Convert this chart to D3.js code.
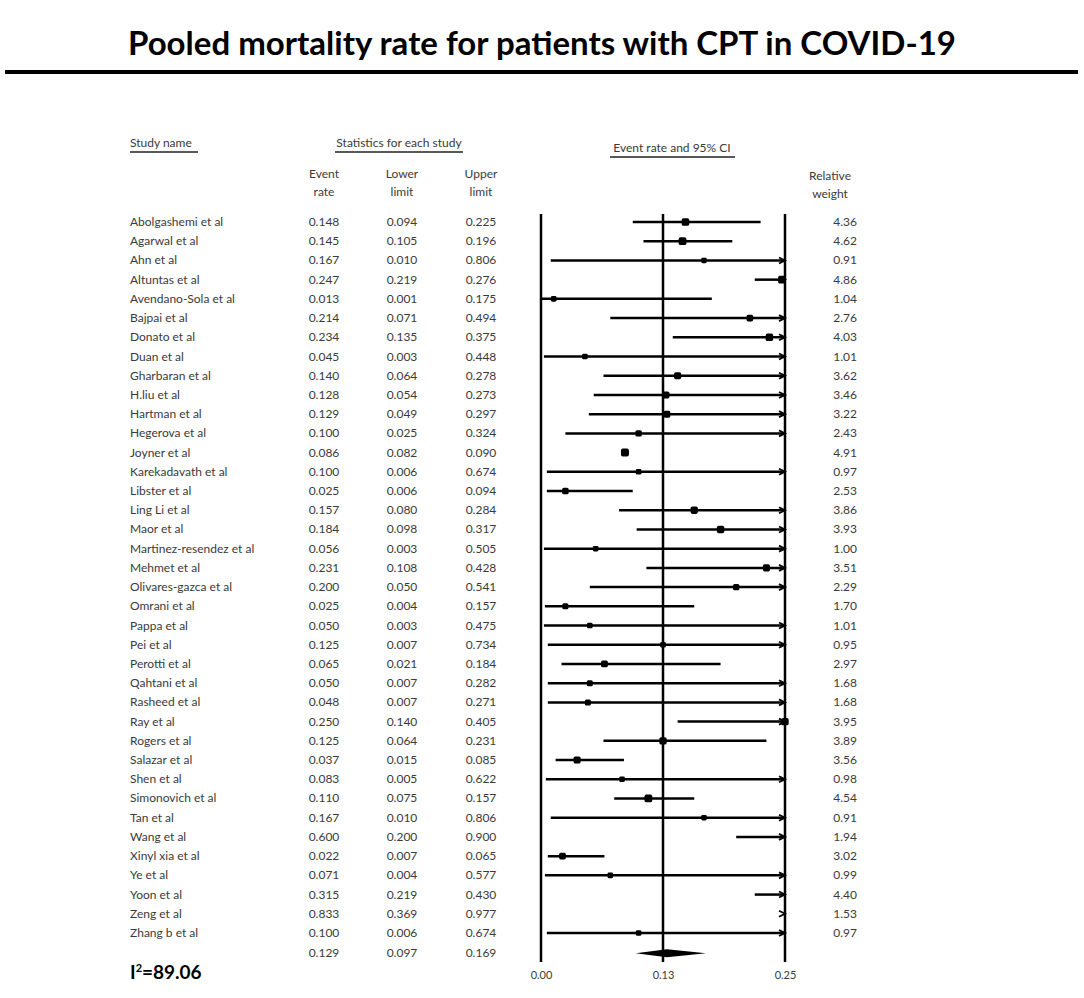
<!DOCTYPE html>
<html>
<head>
<meta charset="utf-8">
<script src="https://cdn.jsdelivr.net/npm/d3@7"></script>
<style>
  body { margin: 0; background: #fff; }
</style>
</head>
<body>
<div class="forest"></div>
<script>
var studies = ["Abolgashemi et al","Agarwal et al","Ahn et al","Altuntas et al","Avendano-Sola et al",
  "Bajpai et al","Donato et al","Duan et al","Gharbaran et al","H.liu et al","Hartman et al",
  "Hegerova et al","Joyner et al","Karekadavath et al","Libster et al","Ling Li et al","Maor et al",
  "Martinez-resendez et al","Mehmet et al","Olivares-gazca et al","Omrani et al","Pappa et al",
  "Pei et al","Perotti et al","Qahtani et al","Rasheed et al","Ray et al","Rogers et al",
  "Salazar et al","Shen et al","Simonovich et al","Tan et al","Wang et al","Xinyl xia et al",
  "Ye et al","Yoon et al","Zeng et al","Zhang b et al"]
var eventRate = [0.148,0.145,0.167,0.247,0.013,0.214,0.234,0.045,0.140,0.128,0.129,0.100,0.086,
  0.100,0.025,0.157,0.184,0.056,0.231,0.200,0.025,0.050,0.125,0.065,0.050,0.048,0.250,0.125,
  0.037,0.083,0.110,0.167,0.600,0.022,0.071,0.315,0.833,0.100]
var lowerLimit = [0.094,0.105,0.010,0.219,0.001,0.071,0.135,0.003,0.064,0.054,0.049,0.025,0.082,
  0.006,0.006,0.080,0.098,0.003,0.108,0.050,0.004,0.003,0.007,0.021,0.007,0.007,0.140,0.064,
  0.015,0.005,0.075,0.010,0.200,0.007,0.004,0.219,0.369,0.006]
var upperLimit = [0.225,0.196,0.806,0.276,0.175,0.494,0.375,0.448,0.278,0.273,0.297,0.324,0.090,
  0.674,0.094,0.284,0.317,0.505,0.428,0.541,0.157,0.475,0.734,0.184,0.282,0.271,0.405,0.231,
  0.085,0.622,0.157,0.806,0.900,0.065,0.577,0.430,0.977,0.674]
var weights = [4.36,4.62,0.91,4.86,1.04,2.76,4.03,1.01,3.62,3.46,3.22,2.43,4.91,0.97,2.53,3.86,
  3.93,1.00,3.51,2.29,1.70,1.01,0.95,2.97,1.68,1.68,3.95,3.89,3.56,0.98,4.54,0.91,1.94,3.02,
  0.99,4.40,1.53,0.97]
var pooled = [0.129, 0.097, 0.169]
var tickValues = [0, 0.125, 0.25]
var tickLabels = ["0.00", "0.13", "0.25"]

var font = "Lato, 'Liberation Sans', sans-serif"
var txt = "#3a3a3a"

var svg = d3.select(".forest")
    .append("svg")
    .attr("width", 1084)
    .attr("height", 998)

// title
svg.append("text")
    .attr("x", 542)
    .attr("y", 55)
    .attr("text-anchor", "middle")
    .text("Pooled mortality rate for patients with CPT in COVID-19")
    .style("font-size", "33px")
    .style("font-weight", "bold")
    .attr("font-family", font)
    .attr("fill", "#000")

svg.append("line")
    .attr("x1", 5).attr("y1", 72)
    .attr("x2", 1078).attr("y2", 72)
    .style("stroke", "#000")
    .style("stroke-width", 4)

var x = d3.scaleLinear().domain([0, 0.25]).range([541, 785])
var y = d3.scaleLinear().domain([0, studies.length - 1]).range([222, 933])
var yPooled = y(studies.length) + 1

// text helper
function label(xp, yp, s, anchor, size, weight) {
  return svg.append("text")
    .attr("x", xp).attr("y", yp)
    .attr("text-anchor", anchor || "start")
    .text(s)
    .style("font-size", (size || 12) + "px")
    .style("font-weight", weight || "normal")
    .attr("font-family", font)
    .attr("fill", txt)
}
function underline(x1, x2, yp) {
  svg.append("line")
    .attr("x1", x1).attr("y1", yp).attr("x2", x2).attr("y2", yp)
    .style("stroke", "#222").style("stroke-width", 1.5)
}

label(130, 147, "Study name")
underline(130, 198, 152)
label(399, 147, "Statistics for each study", "middle")
underline(335, 463, 152)
label(672, 152, "Event rate and 95% CI", "middle")
underline(610, 735, 157)

var cols = [324, 402, 481]
label(cols[0], 178, "Event", "middle")
label(cols[0], 196, "rate", "middle")
label(cols[1], 178, "Lower", "middle")
label(cols[1], 196, "limit", "middle")
label(cols[2], 178, "Upper", "middle")
label(cols[2], 196, "limit", "middle")
label(830, 180, "Relative", "middle")
label(830, 198, "weight", "middle")

// table rows
studies.forEach(function(s, i) {
  var yy = y(i) + 4
  label(130, yy, s)
  label(cols[0], yy, eventRate[i].toFixed(3), "middle")
  label(cols[1], yy, lowerLimit[i].toFixed(3), "middle")
  label(cols[2], yy, upperLimit[i].toFixed(3), "middle")
  label(857, yy, weights[i].toFixed(2), "end")
})
label(cols[0], yPooled + 4, pooled[0].toFixed(3), "middle")
label(cols[1], yPooled + 4, pooled[1].toFixed(3), "middle")
label(cols[2], yPooled + 4, pooled[2].toFixed(3), "middle")

// I2
var i2 = svg.append("text")
    .attr("x", 130).attr("y", 979)
    .style("font-size", "19px")
    .style("font-weight", "bold")
    .attr("font-family", font)
    .attr("fill", "#000")
i2.append("tspan").text("I")
i2.append("tspan").text("2").attr("dy", -7).style("font-size", "11px")
i2.append("tspan").text("=89.06").attr("dy", 7)

// reference lines
tickValues.forEach(function(v) {
  svg.append("line")
    .attr("x1", x(v)).attr("y1", 214)
    .attr("x2", x(v)).attr("y2", 962)
    .style("stroke", "#000")
    .style("stroke-width", 2.5)
})

var axis = d3.axisBottom(x)
    .tickValues(tickValues)
    .tickFormat(function(d, i) { return tickLabels[i] })
    .tickSize(0)
var gAxis = svg.append("g")
    .attr("transform", "translate(0,968)")
    .call(axis)
gAxis.select(".domain").remove()
gAxis.selectAll("text")
    .style("font-size", "11px")
    .attr("font-family", font)
    .attr("fill", txt)

// CI lines, markers, arrows
var xMax = 0.25
studies.forEach(function(s, i) {
  var yy = y(i)
  var lo = Math.min(lowerLimit[i], xMax)
  var hi = Math.min(upperLimit[i], xMax)
  if (lowerLimit[i] < xMax) {
    svg.append("line")
      .attr("x1", x(lo)).attr("y1", yy)
      .attr("x2", x(hi)).attr("y2", yy)
      .style("stroke", "#000")
      .style("stroke-width", 2.5)
  }
  if (upperLimit[i] > xMax) {
    svg.append("path")
      .attr("d", "M" + (x(xMax) - 6) + "," + (yy - 3) + "L" + x(xMax) + "," + yy +
        "L" + (x(xMax) - 6) + "," + (yy + 3))
      .style("fill", "none")
      .style("stroke", "#000")
      .style("stroke-width", 1.8)
  }
  if (eventRate[i] <= xMax) {
    var sz = 5 + weights[i] * 0.6
    svg.append("rect")
      .attr("x", x(eventRate[i]) - sz / 2)
      .attr("y", yy - sz / 2)
      .attr("width", sz)
      .attr("height", sz)
      .attr("rx", sz / 4)
      .style("fill", "#000")
  }
})

// pooled diamond
var dh = 4
svg.append("path")
  .attr("d", "M" + x(pooled[1]) + "," + yPooled +
    "L" + x(pooled[0]) + "," + (yPooled - dh) +
    "L" + x(pooled[2]) + "," + yPooled +
    "L" + x(pooled[0]) + "," + (yPooled + dh) + "Z")
  .style("fill", "#000")
</script>
</body>
</html>
